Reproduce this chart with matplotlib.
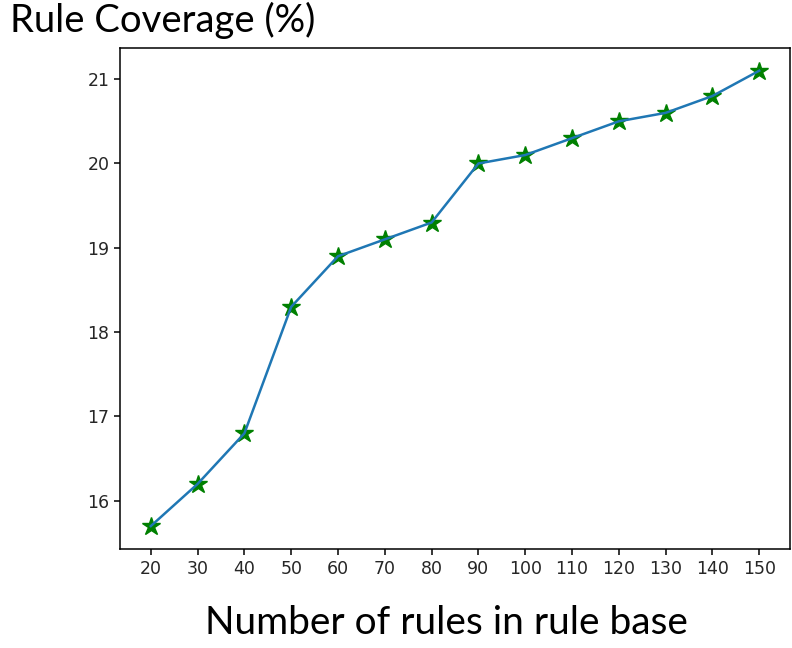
import matplotlib
matplotlib.use("Agg")
import matplotlib.pyplot as plt

# number of rules in the rule base vs rule coverage
rules = [20, 30, 40, 50, 60, 70, 80, 90, 100, 110, 120, 130, 140, 150]
coverage = [15.7, 16.2, 16.8, 18.3, 18.9, 19.1, 19.3, 20.0, 20.1, 20.3, 20.5, 20.6, 20.8, 21.1]

fig = plt.figure(figsize=(7.92, 6.48), dpi=100)
ax = fig.add_axes([0.152, 0.153, 0.845, 0.773])

# stars first, line on top of them
ax.plot(rules, coverage, '*', color='green', markersize=13.5, zorder=2)
ax.plot(rules, coverage, color='#1f77b4', linewidth=1.8, zorder=3)

ax.set_xticks(rules)
ax.tick_params(labelsize=12.5, length=4.5, width=1.1, labelcolor='#262626')
for lab in ax.get_xticklabels() + ax.get_yticklabels():
    lab.set_family('DejaVu Sans')
for s in ax.spines.values():
    s.set_linewidth(1.1)

fig.text(10 / 792, 1 - 32 / 648, 'Rule Coverage (%)', fontsize=27.5, family='Lato',
         ha='left', va='baseline')
fig.text(446 / 792, 1 - 634 / 648, 'Number of rules in rule base', fontsize=28,
         family='Lato', ha='center', va='baseline')

fig.savefig('out.png', dpi=100)
